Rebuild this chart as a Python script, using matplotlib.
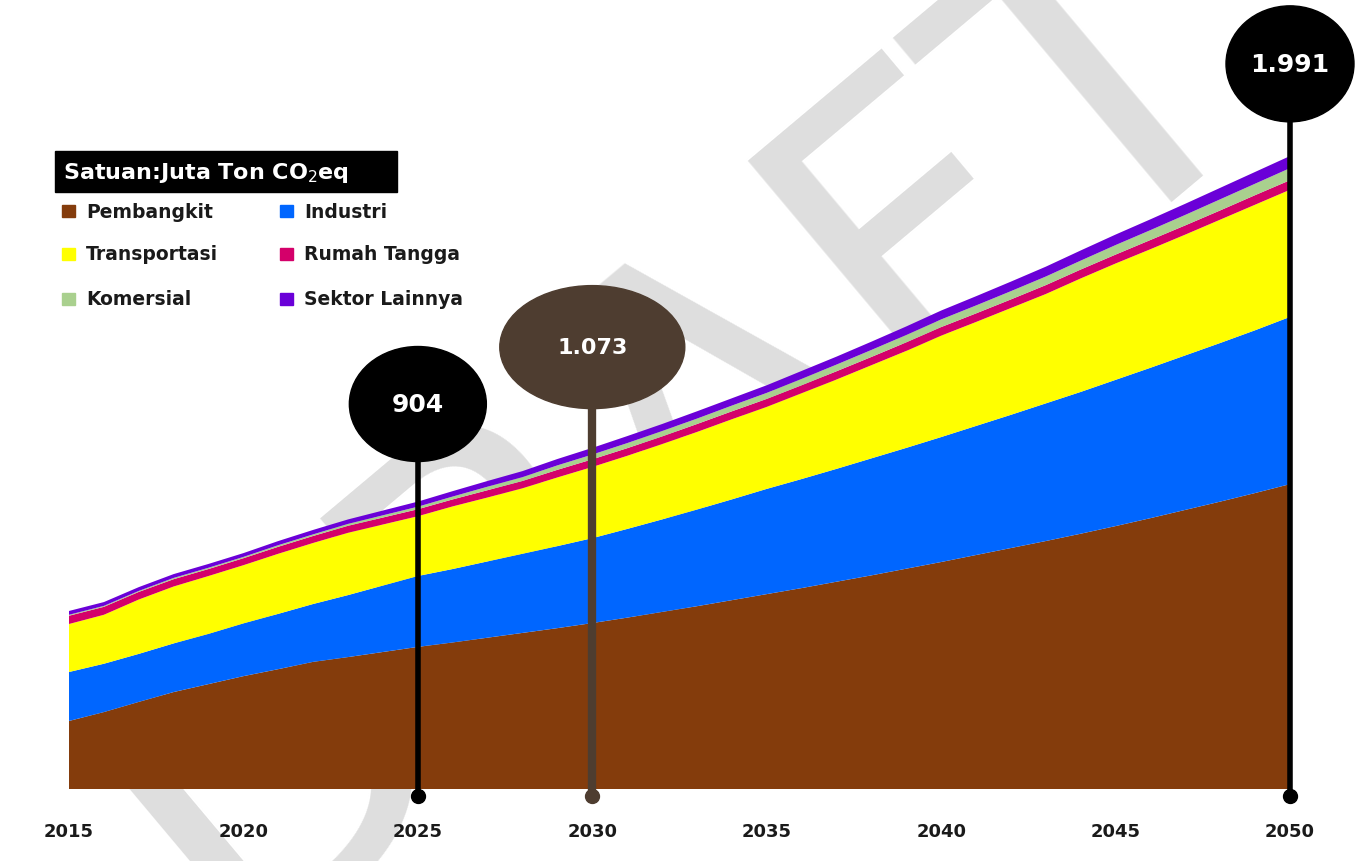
import numpy as np
import matplotlib
matplotlib.use("Agg")
import matplotlib.pyplot as plt
from matplotlib.patches import Ellipse, Rectangle

# Emisi GRK per sektor (Juta Ton CO2eq)
years = list(range(2015, 2051))
pembangkit = [214, 242, 274, 305, 330, 355, 377, 400, 415, 431,
              447, 461, 476, 491, 506, 522, 539, 557, 575, 594,
              613, 632, 652, 672, 693, 714, 736, 758, 780, 803,
              827, 852, 878, 904, 931, 959]
industri = [154, 152, 151, 153, 158, 166, 174, 182, 195, 209,
            223, 231, 240, 249, 258, 267, 279, 291, 304, 317,
            331, 343, 355, 368, 380, 393, 406, 419, 433, 446,
            460, 473, 486, 499, 512, 526]
transportasi = [151, 154, 171, 179, 182, 183, 189, 192, 196, 192,
                188, 197, 201, 206, 216, 224, 230, 237, 244, 252,
                258, 270, 281, 293, 305, 319, 327, 336, 344, 357,
                366, 373, 380, 388, 395, 400]
rumah_tangga = [26, 25, 24, 23, 22, 22, 22, 22, 22, 22,
                22, 22, 23, 23, 24, 24, 24, 24, 25, 25,
                25, 25, 26, 26, 27, 27, 27, 27, 28, 28,
                28, 29, 29, 29, 30, 30]
komersial = [3, 3, 3, 4, 4, 4, 5, 5, 6, 7,
             8, 9, 11, 12, 14, 15, 16, 17, 17, 18,
             19, 20, 21, 22, 23, 24, 25, 26, 27, 28,
             30, 31, 33, 35, 36, 38]
lainnya = [12, 12, 12, 12, 12, 12, 13, 14, 14, 15,
           16, 17, 18, 19, 20, 21, 22, 22, 23, 23,
           24, 25, 25, 26, 27, 28, 29, 30, 31, 32,
           33, 34, 35, 36, 37, 38]

labels = ["Pembangkit", "Industri", "Transportasi", "Rumah Tangga", "Komersial", "Sektor Lainnya"]
colors = ["#843C0C", "#0066FF", "#FFFF00", "#D4006A", "#A9D08E", "#6A00D8"]

callout_years = [2025, 2030, 2050]
callout_text = ["904", "1.073", "1.991"]

W, H = 1357, 862
fig = plt.figure(figsize=(W / 100, H / 100), dpi=100)

def fx(px):
    return px / W

def fy(py):
    return 1 - py / H

# watermark behind everything
fig.text(0.50, 0.50, "DRAFT", fontsize=300, color="#dedede", rotation=40,
         ha="center", va="center", family="DejaVu Sans", zorder=-1)

x0, x1, base = 69, 1290, 790
ymax = 2485
ax = fig.add_axes([fx(x0), fy(base), fx(x1 - x0), base / H])
ax.patch.set_alpha(0)
ax.stackplot(years, pembangkit, industri, transportasi, rumah_tangga, komersial, lainnya,
             colors=colors, linewidth=0, zorder=2)
ax.set_xlim(2015, 2050)
ax.set_ylim(0, ymax)
for s in ax.spines.values():
    s.set_visible(False)
ax.set_yticks([])
ax.set_xticks(range(2015, 2051, 5))
ax.set_xticklabels([str(y) for y in range(2015, 2051, 5)], fontsize=13,
                   fontweight="bold", color="#1a1a1a")
ax.tick_params(axis="x", length=0, pad=24)

# callouts: (center y in data units, width px, height px, colour, stem width, font size, weight)
yrs_per_px = 35 / (x1 - x0)
units_per_px = ymax / base
specs = [(1211, 137, 115, "#000000", 4, 18, "bold"),
         (1390, 185, 123, "#4E3D30", 6, 16, "semibold"),
         (2281, 128, 116, "#000000", 4, 18, "bold")]
for yr, txt, (cy, w, h, c, lw, fs, fw) in zip(callout_years, callout_text, specs):
    ax.plot([yr, yr], [-22, cy], color=c, lw=lw, zorder=5, clip_on=False,
            solid_capstyle="butt")
    ax.add_patch(Ellipse((yr, cy), w * yrs_per_px, h * units_per_px, color=c,
                         zorder=6, clip_on=False))
    ax.plot([yr], [-22], "o", color=c, ms=10, zorder=6, clip_on=False)
    ax.text(yr, cy, txt, color="white", fontsize=fs, fontweight=fw,
            ha="center", va="center", zorder=7)

# legend box
fig.patches.append(Rectangle((fx(55), fy(193)), fx(342), 41 / H, color="black",
                             transform=fig.transFigure, zorder=3))
fig.text(fx(63), fy(173), "Satuan:Juta Ton CO$_2$eq", color="white", fontsize=16,
         fontweight="bold", ha="left", va="center", zorder=4)
pos = [(62, 212), (280, 212), (62, 255), (280, 255), (62, 300), (280, 300)]
for (px, py), lab, c in zip(pos, labels, colors):
    fig.patches.append(Rectangle((fx(px), fy(py + 6)), fx(13), 12 / H, color=c,
                                 transform=fig.transFigure, zorder=3))
    fig.text(fx(px + 24), fy(py), lab, color="#1a1a1a", fontsize=13.5,
             fontweight="bold", ha="left", va="center", zorder=4)

fig.savefig("out.png", dpi=100)
